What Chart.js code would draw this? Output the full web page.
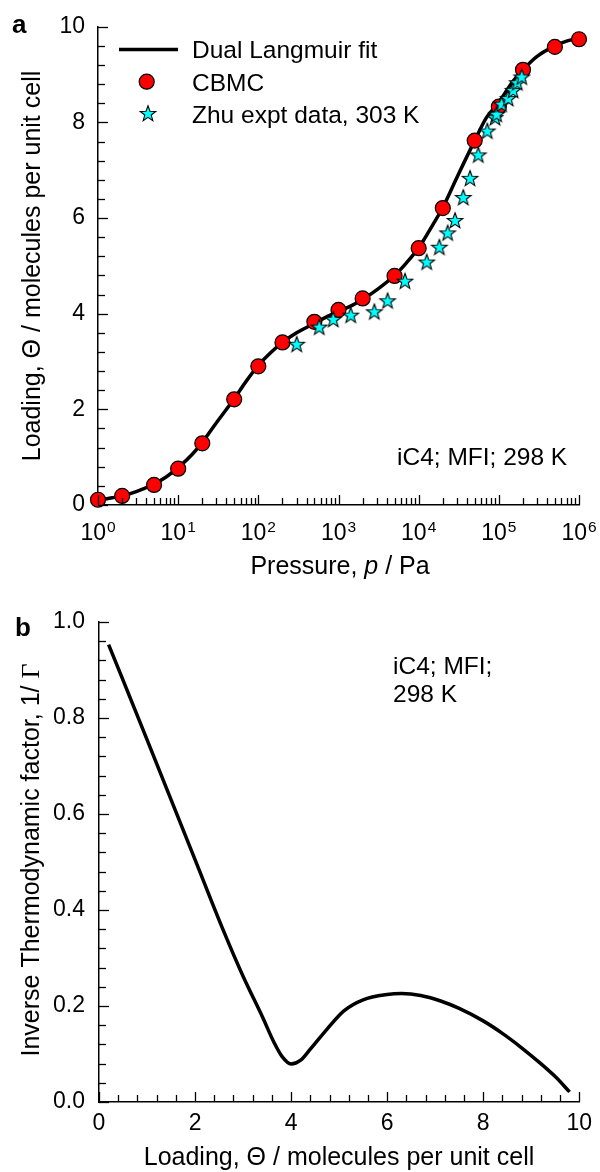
<!DOCTYPE html>
<html><head><meta charset="utf-8">
<script src="https://cdn.jsdelivr.net/npm/chart.js@4.4.1/dist/chart.umd.min.js"></script>
<style>
html,body{margin:0;padding:0;background:#fff;}
#wrap{position:relative;width:600px;height:1172px;background:#fff;}
#c1{position:absolute;left:0;top:0;}
#c2{position:absolute;left:0;top:590px;}
</style></head><body>
<div id="wrap"><canvas id="c1" width="600" height="590"></canvas><canvas id="c2" width="600" height="582"></canvas></div>
<script>
const FONT = "'Liberation Sans', Arial, Helvetica, sans-serif";
const SERIF = "'Liberation Serif', 'Times New Roman', serif";

// ---------- Panel a data ----------
const cbmcPressure = [1, 2, 5, 10, 20, 50, 100, 200, 500, 1000, 2000, 5000, 1e4, 2e4, 5e4, 1e5, 2e5, 5e5, 1e6];
const cbmcLoading  = [0.11, 0.19, 0.42, 0.76, 1.29, 2.21, 2.90, 3.40, 3.83, 4.08, 4.32, 4.79, 5.37, 6.21, 7.62, 8.33, 9.10, 9.58, 9.74];

const zhuPressure = [301, 576, 861, 1420, 2800, 4100, 6750, 12600, 18100, 23000, 28400, 36000, 43700, 55400, 71800, 89600, 94000, 108000, 131000, 151000, 170000, 193000];
const zhuLoading  = [3.35, 3.71, 3.87, 3.96, 4.03, 4.26, 4.67, 5.07, 5.38, 5.68, 5.94, 6.42, 6.82, 7.31, 7.81, 8.09, 8.16, 8.37, 8.49, 8.66, 8.82, 8.94];

const fitPressure = [1, 1.5, 2, 3, 5, 7, 10, 15, 20, 30, 50, 70, 100, 150, 200, 300, 500, 700, 1000, 1500, 2000, 3000, 5000, 7000, 1e4, 1.5e4, 2e4, 3e4, 5e4, 7e4, 1e5, 1.5e5, 2e5, 3e5, 5e5, 7e5, 1e6];
const fitLoading  = [0.10, 0.15, 0.19, 0.28, 0.44, 0.58, 0.78, 1.06, 1.31, 1.72, 2.22, 2.58, 2.92, 3.22, 3.40, 3.60, 3.80, 3.93, 4.05, 4.18, 4.30, 4.50, 4.80, 5.06, 5.38, 5.86, 6.22, 6.85, 7.62, 8.10, 8.42, 8.86, 9.10, 9.38, 9.60, 9.70, 9.76];

const topYTickLabels = ['0', '2', '4', '6', '8', '10'];
const topXTickExponents = ['0', '1', '2', '3', '4', '5', '6'];

// ---------- Panel b data ----------
const thetaLoading = [0.2, 1.0, 2.0, 2.6, 3.0, 3.4, 3.65, 3.81, 4.0, 4.2, 4.4, 4.75, 5.1, 5.5, 6.0, 6.3, 6.7, 7.1, 7.5, 8.0, 8.4, 8.8, 9.2, 9.5, 9.8];
const invThermoFactor = [0.953, 0.755, 0.505, 0.355, 0.262, 0.178, 0.123, 0.095, 0.079, 0.087, 0.11, 0.152, 0.19, 0.213, 0.224, 0.226, 0.222, 0.211, 0.195, 0.169, 0.143, 0.113, 0.080, 0.053, 0.021];

const botYTickLabels = ['0.0', '0.2', '0.4', '0.6', '0.8', '1.0'];
const botXTickLabels = ['0', '2', '4', '6', '8', '10'];

// ---------- helpers ----------
function makeStar(size, rOut, rIn) {
  const c = document.createElement('canvas');
  c.width = size; c.height = size;
  const g = c.getContext('2d');
  const cx = size / 2, cy = size / 2;
  g.beginPath();
  for (let i = 0; i < 10; i++) {
    const r = (i % 2) ? rIn : rOut;
    const a = -Math.PI / 2 + i * Math.PI / 5;
    const px = cx + r * Math.cos(a), py = cy + r * Math.sin(a);
    if (i === 0) g.moveTo(px, py); else g.lineTo(px, py);
  }
  g.closePath();
  g.fillStyle = '#00ffff';
  g.fill();
  g.lineWidth = 1.1;
  g.strokeStyle = '#000';
  g.stroke();
  return c;
}
const starImg = makeStar(22, 8.2, 3.4);

function drawRuns(ctx, runs, x, y, rotate) {
  ctx.save();
  ctx.translate(x, y);
  if (rotate) ctx.rotate(-Math.PI / 2);
  let total = 0;
  runs.forEach(r => { ctx.font = r[1]; total += ctx.measureText(r[0]).width; });
  let cx = -total / 2;
  ctx.textBaseline = 'alphabetic';
  ctx.textAlign = 'left';
  ctx.fillStyle = '#000';
  runs.forEach(r => { ctx.font = r[1]; ctx.fillText(r[0], cx, 0); cx += ctx.measureText(r[0]).width; });
  ctx.restore();
}

function tickLine(ctx, x1, y1, x2, y2) {
  ctx.beginPath(); ctx.moveTo(x1, y1); ctx.lineTo(x2, y2); ctx.stroke();
}

const innerTicks = {
  id: 'innerTicks',
  afterDraw(chart) {
    const cfg = chart.options.plugins.innerTicks;
    if (!cfg) return;
    const { ctx, chartArea: ca, scales } = chart;
    ctx.save();
    ctx.strokeStyle = '#000';
    ctx.lineWidth = 1.3;
    cfg.xMajor.forEach(v => { const p = Math.round(scales.x.getPixelForValue(v)) + 0.5; tickLine(ctx, p, ca.bottom, p, ca.bottom - 10); });
    cfg.xMinor.forEach(v => { const p = Math.round(scales.x.getPixelForValue(v)) + 0.5; tickLine(ctx, p, ca.bottom, p, ca.bottom - 7); });
    cfg.yMajor.forEach(v => { const p = Math.round(scales.y.getPixelForValue(v)) + 0.5; tickLine(ctx, ca.left, p, ca.left + 10, p); });
    cfg.yMinor.forEach(v => { const p = Math.round(scales.y.getPixelForValue(v)) + 0.5; tickLine(ctx, ca.left, p, ca.left + 7, p); });
    ctx.restore();
  }
};

// ---------- tick value lists ----------
const topXMajor = topXTickExponents.map(e => Math.pow(10, +e));
const topXMinor = [];
for (let d = 0; d < 6; d++) for (let k = 2; k <= 9; k++) topXMinor.push(k * Math.pow(10, d));
const topYMajor = topYTickLabels.map(Number);
const topYMinor = [];
for (let i = 0; i <= 25; i++) if (i % 5) topYMinor.push(i * 0.4);

const botXMajor = botXTickLabels.map(Number);
const botXMinor = [];
for (let i = 0; i <= 25; i++) if (i % 5) botXMinor.push(i * 0.4);
const botYMajor = botYTickLabels.map(Number);
const botYMinor = [];
for (let i = 0; i <= 25; i++) if (i % 5) botYMinor.push(i * 0.04);

const axisBorder = { display: true, color: '#000', width: 1.5 };

// ---------- Panel a ----------
const annotA = {
  id: 'annotA',
  afterDraw(chart) {
    const { ctx, scales } = chart;
    ctx.save();
    ctx.fillStyle = '#000';
    const base = 540;
    topXTickExponents.forEach(e => {
      const px = scales.x.getPixelForValue(Math.pow(10, +e));
      ctx.font = '23px ' + FONT;
      const w1 = ctx.measureText('10').width;
      ctx.font = '15.5px ' + FONT;
      const w2 = ctx.measureText(e).width;
      const start = px - (w1 + w2 + 1) / 2;
      ctx.textBaseline = 'alphabetic'; ctx.textAlign = 'left';
      ctx.font = '23px ' + FONT;
      ctx.fillText('10', start, base);
      ctx.font = '15.5px ' + FONT;
      ctx.fillText(e, start + w1 + 1, base - 8.5);
    });
    ctx.font = 'bold 26px ' + FONT;
    ctx.textAlign = 'left';
    ctx.fillText('a', 12, 33);
    ctx.font = '24.5px ' + FONT;
    ctx.fillText('iC4; MFI; 298 K', 397, 465);
    // legend
    ctx.strokeStyle = '#000';
    ctx.lineWidth = 3.5;
    tickLine(ctx, 119, 49.5, 178, 49.5);
    ctx.beginPath(); ctx.arc(146.7, 81.7, 7.5, 0, Math.PI * 2);
    ctx.fillStyle = '#ff0000'; ctx.fill();
    ctx.lineWidth = 1.2; ctx.stroke();
    ctx.drawImage(starImg, 148 - 11, 114 - 11);
    ctx.fillStyle = '#000';
    ctx.font = '24.5px ' + FONT;
    ctx.fillText('Dual Langmuir fit', 192, 57.5);
    ctx.fillText('CBMC', 192, 90.5);
    ctx.fillText('Zhu expt data, 303 K', 192, 123);
    ctx.restore();
    const f = '25px ' + FONT;
    drawRuns(ctx, [['Pressure, ', f], ['p', 'italic 25px ' + FONT], [' / Pa', f]], 340, 574, false);
    drawRuns(ctx, [['Loading, ', f], ['\u0398', f], [' / molecules per unit cell', f]], 40, 266, true);
  }
};

new Chart(document.getElementById('c1'), {
  type: 'scatter',
  data: {
    datasets: [
      {
        label: 'Zhu expt data, 303 K',
        data: zhuPressure.map((p, i) => ({ x: p, y: zhuLoading[i] })),
        pointStyle: starImg, pointRadius: 8, showLine: false, order: 0, clip: false
      },
      {
        label: 'CBMC',
        data: cbmcPressure.map((p, i) => ({ x: p, y: cbmcLoading[i] })),
        pointStyle: 'circle', pointRadius: 7.5, backgroundColor: '#ff0000', borderColor: '#000', borderWidth: 1.2,
        showLine: false, order: 1, clip: false
      },
      {
        label: 'Dual Langmuir fit',
        data: fitPressure.map((p, i) => ({ x: p, y: fitLoading[i] })),
        showLine: true, pointRadius: 0, borderColor: '#000', borderWidth: 3.5,
        cubicInterpolationMode: 'monotone', borderJoinStyle: 'round', borderCapStyle: 'round', order: 2, clip: false
      }
    ]
  },
  options: {
    responsive: false, animation: false, devicePixelRatio: 1,
    layout: { padding: { left: 0, right: 21, top: 25, bottom: 0 } },
    plugins: {
      legend: { display: false }, tooltip: { enabled: false },
      innerTicks: { xMajor: topXMajor, xMinor: topXMinor, yMajor: topYMajor, yMinor: topYMinor }
    },
    scales: {
      x: {
        type: 'logarithmic', min: 1, max: 1e6,
        grid: { display: false, drawTicks: false }, border: axisBorder,
        ticks: { display: false },
        afterFit(s) { s.height = 85; }
      },
      y: {
        type: 'linear', min: 0, max: 10,
        grid: { display: false, drawTicks: false }, border: axisBorder,
        ticks: { stepSize: 2, color: '#000', font: { family: FONT, size: 23 }, padding: 13,
          callback: (v, i) => topYTickLabels[i] },
        afterFit(s) { s.width = 98; }
      }
    }
  },
  plugins: [innerTicks, annotA]
});

// ---------- Panel b ----------
const annotB = {
  id: 'annotB',
  afterDraw(chart) {
    const { ctx } = chart;
    const off = 590;
    ctx.save();
    ctx.fillStyle = '#000';
    ctx.textAlign = 'left'; ctx.textBaseline = 'alphabetic';
    ctx.font = 'bold 26px ' + FONT;
    ctx.fillText('b', 15, 636 - off);
    ctx.font = '24.5px ' + FONT;
    ctx.fillText('iC4; MFI;', 393, 674 - off);
    ctx.fillText('298 K', 393, 702 - off);
    ctx.restore();
    const f = '25px ' + FONT;
    drawRuns(ctx, [['Loading, ', f], ['\u0398', f], [' / molecules per unit cell', f]], 339, 1165 - off, false);
    drawRuns(ctx, [['Inverse Thermodynamic factor, 1/ ', f], ['\u0393', '26px ' + SERIF]], 39, 860 - off, true);
  }
};

new Chart(document.getElementById('c2'), {
  type: 'scatter',
  data: {
    datasets: [
      {
        label: 'Inverse thermodynamic factor',
        data: thetaLoading.map((t, i) => ({ x: t, y: invThermoFactor[i] })),
        showLine: true, pointRadius: 0, borderColor: '#000', borderWidth: 3.5,
        cubicInterpolationMode: 'monotone', borderJoinStyle: 'round', borderCapStyle: 'butt', clip: false
      }
    ]
  },
  options: {
    responsive: false, animation: false, devicePixelRatio: 1,
    layout: { padding: { left: 0, right: 20, top: 32, bottom: 0 } },
    plugins: {
      legend: { display: false }, tooltip: { enabled: false },
      innerTicks: { xMajor: botXMajor, xMinor: botXMinor, yMajor: botYMajor, yMinor: botYMinor }
    },
    scales: {
      x: {
        type: 'linear', min: 0, max: 10,
        grid: { display: false, drawTicks: false }, border: axisBorder,
        ticks: { stepSize: 2, color: '#000', font: { family: FONT, size: 23 }, padding: 8, maxRotation: 0,
          callback: (v, i) => botXTickLabels[i] },
        afterFit(s) { s.height = 70; }
      },
      y: {
        type: 'linear', min: 0, max: 1,
        grid: { display: false, drawTicks: false }, border: axisBorder,
        ticks: { stepSize: 0.2, color: '#000', font: { family: FONT, size: 23 }, padding: 14,
          callback: (v, i) => botYTickLabels[i] },
        afterFit(s) { s.width = 99; }
      }
    }
  },
  plugins: [innerTicks, annotB]
});
</script>
</body></html>
